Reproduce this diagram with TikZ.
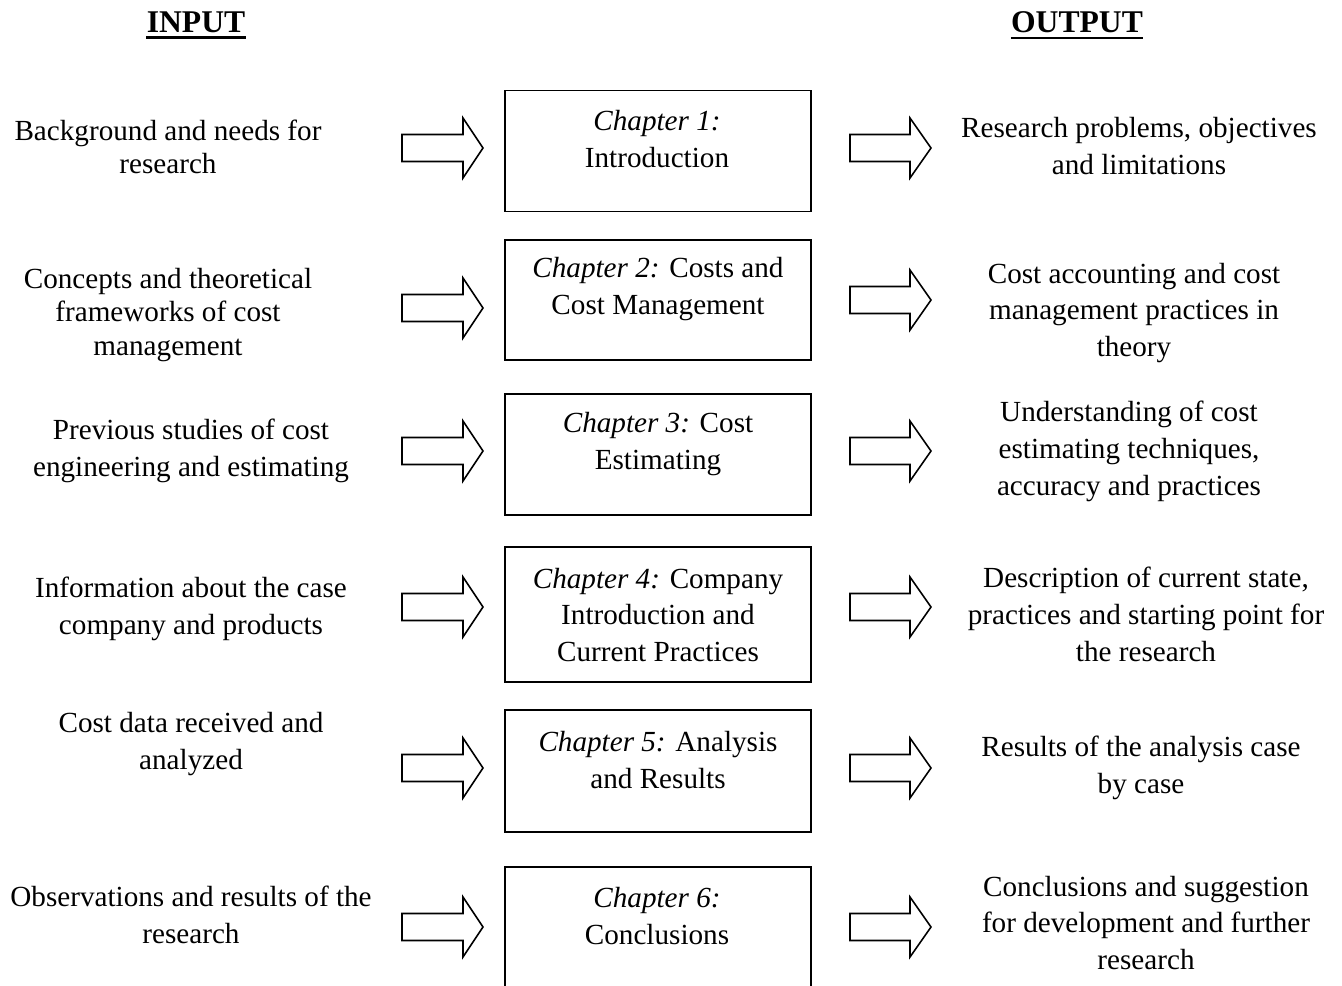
\documentclass[tikz,border=0pt]{standalone}
\usepackage{fontspec}
\setmainfont{Liberation Serif}
\begin{document}
\begin{tikzpicture}[x=0.02cm,y=-0.02cm,
  txt/.style={align=center,inner sep=0pt,font=\fontsize{16.6pt}{21pt}\selectfont},
  tight/.style={font=\fontsize{16.6pt}{19pt}\selectfont},
  hdr/.style={inner sep=0pt,font=\fontsize{18pt}{20pt}\selectfont\bfseries},
  chbox/.style={draw,line width=0.9pt,minimum width=6.12cm,inner sep=0pt},
  blk/.style={draw,line width=0.9pt,line join=miter}]
\useasboundingbox (0,0) rectangle (1342,985);
\clip (0,0) rectangle (1342,985);
% arrows
\newcommand\leftarr[2]{\draw[blk] (402,#2-13.5) -- (463,#2-13.5) -- (463,#2-30) -- (483,#2) -- (463,#2+30) -- (463,#2+13.5) -- (402,#2+13.5) -- cycle;}
\newcommand\rightarr[2]{\draw[blk] (850,#2-13.5) -- (910,#2-13.5) -- (910,#2-30) -- (931,#2) -- (910,#2+30) -- (910,#2+13.5) -- (850,#2+13.5) -- cycle;}
% headers
\node[hdr] (hin) at (196,22) {INPUT};
\node[hdr] (hout) at (1077,22) {OUTPUT};
\draw[line width=1.6pt] (hin.south west) ++(0,5) -- ([yshift=-5*0.02cm]hin.south east);
\draw[line width=1.6pt] (hout.south west) ++(0,5) -- ([yshift=-5*0.02cm]hout.south east);
% boxes
\node[chbox,minimum height=2.42cm] (box1) at (658,151) {};
\node[chbox,minimum height=2.40cm] (box2) at (658,300) {};
\node[chbox,minimum height=2.42cm] (box3) at (658,454.5) {};
\node[chbox,minimum height=2.70cm] (box4) at (658,614.5) {};
\node[chbox,minimum height=2.44cm] (box5) at (658,771) {};
\node[chbox,minimum height=3.00cm] (box6) at (658,942) {};
% box texts
\node[txt] (c1) at (657,139) {\textit{Chapter 1:}\\Introduction};
\node[txt] (c2) at (658,289) {\textit{Chapter 2:} Costs and\\Cost Management};
\node[txt] (c3) at (658,444) {\textit{Chapter 3:} Cost\\Estimating};
\node[txt] (c4) at (658,615) {\textit{Chapter 4:} Company\\Introduction and\\Current Practices};
\node[txt] (c5) at (658,760) {\textit{Chapter 5:} Analysis\\and Results};
\node[txt] (c6) at (657,916) {\textit{Chapter 6:}\\Conclusions};
% input texts
\node[txt,tight] (i1) at (168,147) {Background and needs for\\research};
\node[txt,tight] (i2) at (168,315) {Concepts and theoretical\\frameworks of cost\\management};
\node[txt] (i3) at (191,451) {Previous studies of cost\\engineering and estimating};
\node[txt] (i4) at (191,609) {Information about the case\\company and products};
\node[txt] (i5) at (191,744) {Cost data received and\\analyzed};
\node[txt] (i6) at (191,915) {Observations and results of the\\research};
% output texts
\node[txt] (o1) at (1139,146) {Research problems, objectives\\and limitations};
\node[txt] (o2) at (1134,313) {Cost accounting and cost\\management practices in\\theory};
\node[txt] (o3) at (1129,451) {Understanding of cost\\estimating techniques,\\accuracy and practices};
\node[txt] (o4) at (1146,614) {Description of current state,\\practices and starting point for\\the research};
\node[txt] (o5) at (1141,768) {Results of the analysis case\\by case};
\node[txt] (o6) at (1146,923) {Conclusions and suggestion\\for development and further\\research};
% block arrows
\leftarr{1}{148}
\leftarr{2}{308}
\leftarr{3}{451}
\leftarr{4}{607}
\leftarr{5}{768}
\leftarr{6}{927}
\rightarr{1}{148}
\rightarr{2}{300}
\rightarr{3}{451}
\rightarr{4}{607}
\rightarr{5}{768}
\rightarr{6}{927}
\end{tikzpicture}
\end{document}
